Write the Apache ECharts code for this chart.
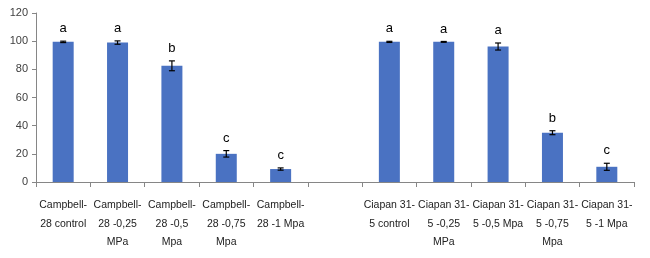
<!DOCTYPE html>
<html>
<head>
<meta charset="utf-8">
<script src="https://cdn.jsdelivr.net/npm/echarts@6/dist/echarts.min.js"></script>
<style>
  html, body { margin: 0; padding: 0; background: #fff; }
  #chart { width: 650px; height: 258px; }
</style>
</head>
<body>
<div id="chart"></div>
<script>
// categories (empty slot separates the two cultivars)
const categories = [
  'Campbell-\n28 control', 'Campbell-\n28 -0,25\nMPa', 'Campbell-\n28 -0,5\nMpa',
  'Campbell-\n28 -0,75\nMpa', 'Campbell-\n28 -1 Mpa', '',
  'Ciapan 31-\n5 control', 'Ciapan 31-\n5 -0,25\nMPa', 'Ciapan 31-\n5 -0,5 Mpa',
  'Ciapan 31-\n5 -0,75\nMpa', 'Ciapan 31-\n5 -1 Mpa'
]
const means = [99.5, 99, 82.5, 20, 9.2, null, 99.5, 99.5, 96.2, 35, 10.8]
const errors = [0.5, 1.2, 3.5, 2.3, 0.8, null, 0.4, 0.3, 2.5, 1.4, 2.5]
const letters = ['a', 'a', 'b', 'c', 'c', '', 'a', 'a', 'a', 'b', 'c']
const yTicks = [0, 20, 40, 60, 80, 100, 120]

const chart = echarts.init(document.getElementById('chart'))

const errData = means.map((m, i) => m == null ? null : [i, m, errors[i], letters[i]])
  .filter(d => d)

chart.setOption({
  animation: false,
  backgroundColor: '#fff',
  grid: {
    left: 36,
    right: 16,
    top: 13,
    bottom: 76
  },
  xAxis: {
    type: 'category',
    data: categories,
    axisLine: { lineStyle: { color: '#868686' } },
    axisTick: { show: true, length: 5, lineStyle: { color: '#868686' } },
    axisLabel: {
      interval: 0,
      color: '#222',
      fontFamily: 'Liberation Sans',
      fontSize: 10.5,
      lineHeight: 18.5,
      margin: 14
    }
  },
  yAxis: {
    type: 'value',
    min: yTicks[0],
    max: yTicks[yTicks.length - 1],
    interval: 20,
    axisLine: { show: true, lineStyle: { color: '#868686' } },
    axisTick: { show: true, length: 4, lineStyle: { color: '#868686' } },
    splitLine: { show: false },
    axisLabel: {
      color: '#404040',
      fontFamily: 'Liberation Sans',
      fontSize: 11,
      margin: 8
    }
  },
  series: [{
    type: 'bar',
    data: means,
    barWidth: 21,
    itemStyle: { color: '#4a72c2' }
  }, {
    type: 'custom',
    data: errData,
    z: 10,
    renderItem (params, api) {
      const x = api.value(0)
      const m = api.value(1)
      const e = api.value(2)
      const top = api.coord([x, m + e])
      const bot = api.coord([x, m - e])
      const cap = 3
      return {
        type: 'group',
        children: [
          { type: 'line', shape: { x1: top[0], y1: top[1], x2: bot[0], y2: bot[1] }, style: { stroke: '#000', lineWidth: 1.2 } },
          { type: 'line', shape: { x1: top[0] - cap, y1: top[1], x2: top[0] + cap, y2: top[1] }, style: { stroke: '#000', lineWidth: 1.2 } },
          { type: 'line', shape: { x1: bot[0] - cap, y1: bot[1], x2: bot[0] + cap, y2: bot[1] }, style: { stroke: '#000', lineWidth: 1.2 } },
          {
            type: 'text',
            x: top[0],
            y: top[1] - 6,
            style: {
              text: errData[params.dataIndex][3],
              fill: '#000',
              font: '13px "Liberation Sans"',
              align: 'center',
              verticalAlign: 'bottom'
            }
          }
        ]
      }
    }
  }]
})
</script>
</body>
</html>
